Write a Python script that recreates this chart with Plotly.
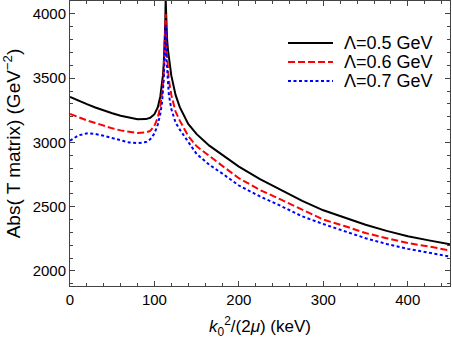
import plotly.graph_objects as go

x_kev = [0, 10, 20, 30, 40, 50, 60, 70, 80, 90, 95, 100, 104, 107, 109, 110, 111, 112,
         112.7, 113.3, 114, 115, 116, 117, 120, 125, 130, 140, 150, 165, 180, 200, 225,
         250, 275, 300, 325, 350, 375, 400, 425, 450]

t_lambda05 = [3355, 3325, 3298, 3272, 3248, 3227, 3208, 3192, 3180, 3182, 3192, 3220, 3275,
              3360, 3450, 3520, 3610, 3740, 3900, 4110, 3900, 3800, 3720, 3660, 3520, 3370,
              3275, 3145, 3065, 2975, 2905, 2812, 2715, 2630, 2545, 2472, 2415, 2360, 2312,
              2270, 2238, 2208]

t_lambda06 = [3222, 3196, 3172, 3152, 3130, 3110, 3094, 3082, 3074, 3078, 3090, 3130, 3195,
              3285, 3375, 3440, 3540, 3690, 3830, 4000, 3770, 3640, 3550, 3490, 3370, 3240,
              3170, 3050, 2970, 2892, 2820, 2722, 2630, 2555, 2475, 2400, 2350, 2295, 2255,
              2218, 2190, 2160]

t_lambda07 = [3014, 3055, 3071, 3066, 3052, 3033, 3015, 3000, 2994, 3003, 3025, 3070, 3140,
              3225, 3310, 3380, 3490, 3660, 3790, 3920, 3680, 3540, 3440, 3375, 3260, 3155,
              3100, 3005, 2910, 2826, 2760, 2665, 2580, 2505, 2425, 2365, 2310, 2255, 2210,
              2172, 2142, 2112]

labels = ["Λ=0.5 GeV", "Λ=0.6 GeV", "Λ=0.7 GeV"]
colors = ["black", "#ff0000", "#0000ff"]
dashes = ["solid", "7px,3px", "3px,2.5px"]

font = "Liberation Sans, Arial, sans-serif"

fig = go.Figure()
for yv, lab, col, ds in zip([t_lambda05, t_lambda06, t_lambda07], labels, colors, dashes):
    fig.add_trace(go.Scatter(x=x_kev, y=yv, mode="lines", name=lab, showlegend=False,
                             line=dict(color=col, width=2, dash=ds)))

axis_common = dict(
    showline=True, linecolor="#444", linewidth=1, mirror="ticks",
    ticks="inside", ticklen=5, tickcolor="#444", tickwidth=1,
    showgrid=False, zeroline=False, automargin=False,
    tickfont=dict(family=font, size=15, color="black"),
)

fig.update_xaxes(range=[0, 450], tick0=0, dtick=100,
                 minor=dict(dtick=20, ticks="inside", ticklen=3, tickcolor="#444", showgrid=False),
                 title=dict(text="<i>k</i><sub>0</sub><sup>2</sup>/(2<i>μ</i>) (keV)",
                            font=dict(family=font, size=17, color="black"), standoff=13),
                 **axis_common)
fig.update_yaxes(range=[1883, 4101], tick0=0, dtick=500,
                 minor=dict(dtick=100, ticks="inside", ticklen=3, tickcolor="#444", showgrid=False),
                 title=dict(text="Abs( T matrix) (GeV<sup>−2</sup>)",
                            font=dict(family=font, size=19, color="black"), standoff=7),
                 **axis_common)

# legend drawn manually (Mathematica style: long sample lines, tight rows)
leg_y = [0.8526, 0.786, 0.7193]
for lab, col, ds, yy in zip(labels, colors, dashes, leg_y):
    fig.add_shape(type="line", xref="paper", yref="paper", x0=0.5737, x1=0.692, y0=yy, y1=yy,
                  line=dict(color=col, width=2, dash=ds))
    fig.add_annotation(xref="paper", yref="paper", x=0.7158, y=yy, text=lab, showarrow=False,
                       xanchor="left", yanchor="middle",
                       font=dict(family=font, size=18, color="black"))

fig.update_layout(
    width=452, height=343,
    margin=dict(l=70, r=2, t=1, b=57),
    plot_bgcolor="white", paper_bgcolor="white",
    showlegend=False,
)

fig.write_html("out.html",
               config={"displayModeBar": False},
               post_script="document.body.style.margin='0';document.body.style.padding='0';"
                           "document.body.style.overflow='hidden';")
